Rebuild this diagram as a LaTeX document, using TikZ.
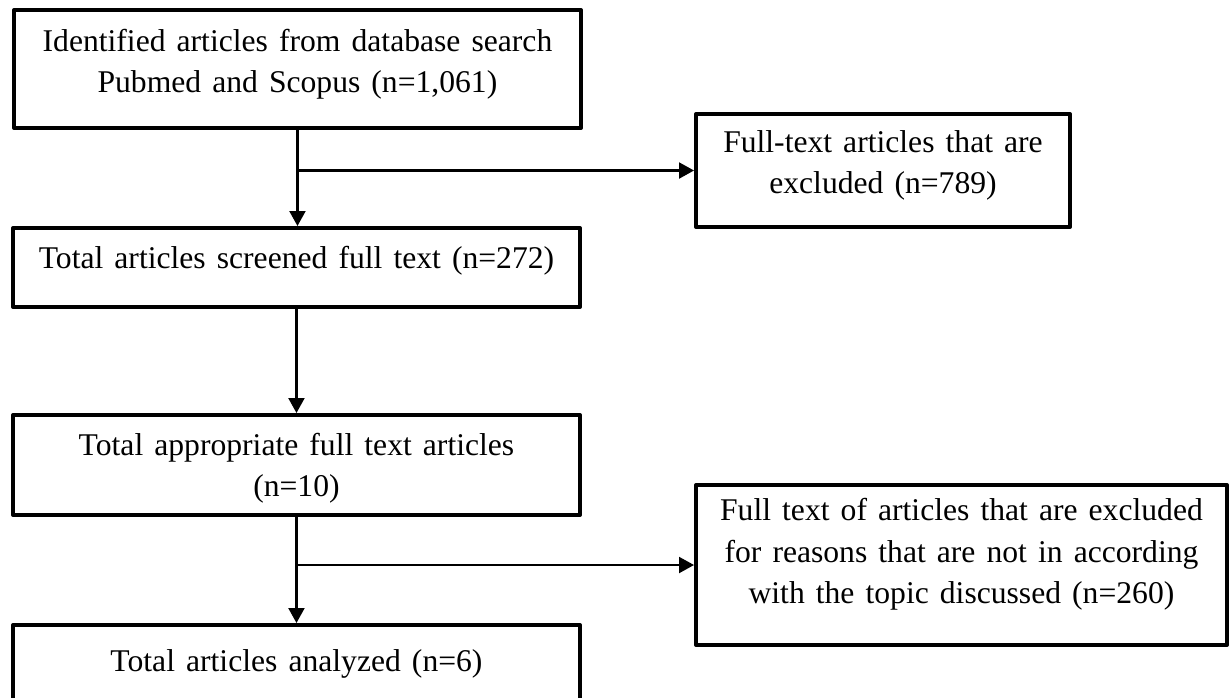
\documentclass[tikz,border=0pt]{standalone}
\usepackage{fontspec}
\setmainfont{Liberation Serif}[WordSpace=1.4]
\usetikzlibrary{arrows.meta}

\begin{document}
\begin{tikzpicture}[x=0.02cm, y=-0.02cm,
    rect/.style={draw, rectangle, anchor=north west, line width=2.3pt, line join=round, inner sep=0pt, align=center, font=\fontsize{18}{23.5}\selectfont},
    link/.style={line width=1.2pt, -{Triangle[length=0.3cm, width=0.32cm]}}]
    \useasboundingbox (0,0) rectangle (1229,697);

    % Left column
    \node[rect, minimum width=11.34cm, minimum height=2.36cm, text depth=9pt] (ident) at (12,8) {Identified articles from database search\\Pubmed and Scopus (n=1,061)};
    \node[rect, minimum width=11.34cm, minimum height=1.58cm, text depth=11pt] (screen) at (11,226) {Total articles screened full text (n=272)};
    \node[rect, minimum width=11.34cm, minimum height=2.0cm, text depth=0pt] (approp) at (11,413) {Total appropriate full text articles\\(n=10)};
    \node[rect, minimum width=11.34cm, minimum height=1.54cm] (analyzed) at (11,623) {Total articles analyzed (n=6)};

    % Right column
    \node[rect, minimum width=7.48cm, minimum height=2.26cm, text depth=10pt] (excl1) at (694,112) {Full-text articles that are\\excluded (n=789)};
    \node[rect, minimum width=10.62cm, minimum height=3.2cm, text depth=16pt] (excl2) at (694,483) {Full text of articles that are excluded\\for reasons that are not in according\\with the topic discussed (n=260)};

    \draw[link] (ident.south) -- (ident.south |- screen.north);
    \draw[link] (ident.south |- excl1.west) -- (excl1.west);
    \draw[link] (screen.south) -- (approp.north);
    \draw[link] (approp.south) -- (analyzed.north);
    \draw[link] (approp.south |- excl2.west) -- (excl2.west);

\end{tikzpicture}
\end{document}
